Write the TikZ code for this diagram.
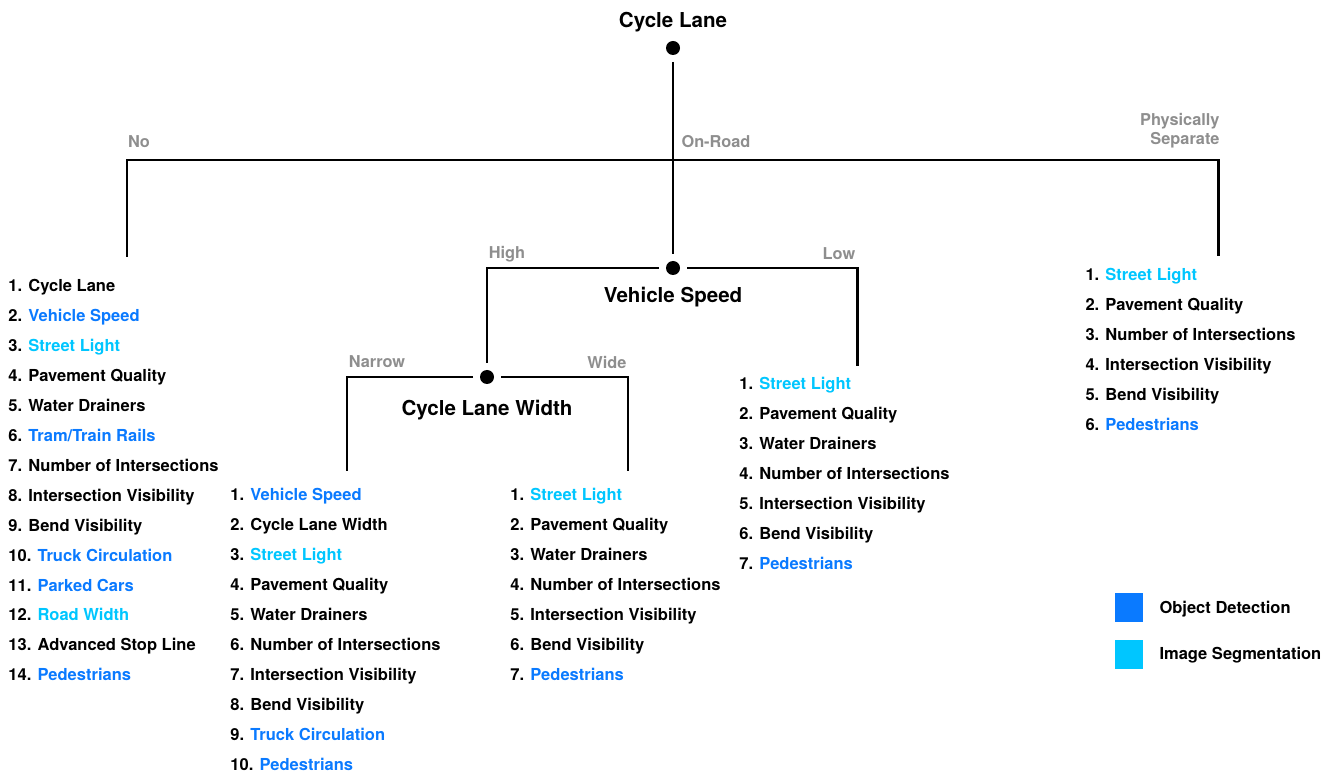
\documentclass[tikz,border=0pt]{standalone}
\usepackage{fontspec}
\setmainfont{TeX Gyre Heros}
\usepackage{xcolor}
\definecolor{treeink}{HTML}{000000}
\definecolor{branchgray}{HTML}{8E8E8E}
\definecolor{objdet}{HTML}{0A7AFF}
\definecolor{imgseg}{HTML}{00C6FF}
\newcommand{\od}[1]{\textcolor{objdet}{#1}}
\newcommand{\is}[1]{\textcolor{imgseg}{#1}}

\begin{document}
\begin{tikzpicture}[-,
  point/.style={coordinate},
  dot/.style={circle, fill=treeink, draw=none, minimum size=0.28cm, inner sep=0pt, outer sep=0.14cm},
  heading/.style={font=\fontsize{11.7}{14}\selectfont\bfseries, text=treeink, inner sep=0pt},
  branch/.style={font=\fontsize{9.3}{12}\selectfont\bfseries, text=branchgray, inner sep=0pt},
  itemlist/.style={anchor=north west, align=left, inner sep=0pt, font=\fontsize{9.4}{17.03}\selectfont\bfseries, text=treeink},
  legendbox/.style={draw=none, inner sep=0pt, minimum width=0.56cm, minimum height=0.58cm},
  every path/.style={draw=treeink, line width=1.7pt}]
\path[use as bounding box, draw=none] (0,0) rectangle (26.66,-15.48);
% tree skeleton
\node[dot] (top) at (13.46,-0.96) {};
\node[point] (split) at (13.46,-3.2) {};
\node[point] (nocorner) at (2.54,-3.2) {};
\node[point] (noend) at (2.54,-5.14) {};
\node[point] (pscorner) at (24.36,-3.2) {};
\node[point] (psend) at (24.36,-5.12) {};
\node[dot] (speed) at (13.46,-5.36) {};
\node[point] (highcorner) at (9.74,-5.36) {};
\node[point] (lowcorner) at (17.14,-5.36) {};
\node[point] (lowend) at (17.14,-7.32) {};
\node[dot] (width) at (9.74,-7.54) {};
\node[point] (narrowcorner) at (6.94,-7.54) {};
\node[point] (narrowend) at (6.94,-9.42) {};
\node[point] (widecorner) at (12.56,-7.54) {};
\node[point] (wideend) at (12.56,-9.42) {};
\draw (top) -- (split) -- (speed);
\draw (noend) -- (nocorner) -- (pscorner) -- (psend);
\draw (width) -- (highcorner) -- (speed);
\draw (speed) -- (lowcorner) -- (lowend);
\draw (width) -- (narrowcorner) -- (narrowend);
\draw (width) -- (widecorner) -- (wideend);
% headings
\node[heading] (laneh) at (13.46,-0.44) {Cycle Lane};
\node[heading] (speedh) at (13.46,-5.94) {Vehicle Speed};
\node[heading] (widthh) at (9.74,-8.2) {Cycle Lane Width};
% branch labels
\node[branch] (nol) at (2.78,-2.84) {No};
\node[branch] (onroadl) at (14.32,-2.84) {On-Road};
\node[branch, anchor=east, align=right] (psl) at (24.42,-2.62) {Physically\\[-1pt]Separate};
\node[branch] (highl) at (10.14,-5.08) {High};
\node[branch] (lowl) at (16.78,-5.08) {Low};
\node[branch] (narrowl) at (7.54,-7.24) {Narrow};
\node[branch] (widel) at (12.14,-7.24) {Wide};
% feature lists
\node[itemlist] (nolist) at (0.14,-5.56) {1. Cycle Lane\\2. \od{Vehicle Speed}\\3. \is{Street Light}\\4. Pavement Quality\\5. Water Drainers\\6. \od{Tram/Train Rails}\\7. Number of Intersections\\8. Intersection Visibility\\9. Bend Visibility\\10. \od{Truck Circulation}\\11. \od{Parked Cars}\\12. \is{Road Width}\\13. Advanced Stop Line\\14. \od{Pedestrians}};
\node[itemlist] (narrowlist) at (4.58,-9.74) {1. \od{Vehicle Speed}\\2. Cycle Lane Width\\3. \is{Street Light}\\4. Pavement Quality\\5. Water Drainers\\6. Number of Intersections\\7. Intersection Visibility\\8. Bend Visibility\\9. \od{Truck Circulation}\\10. \od{Pedestrians}};
\node[itemlist] (widelist) at (10.18,-9.74) {1. \is{Street Light}\\2. Pavement Quality\\3. Water Drainers\\4. Number of Intersections\\5. Intersection Visibility\\6. Bend Visibility\\7. \od{Pedestrians}};
\node[itemlist] (lowlist) at (14.76,-7.52) {1. \is{Street Light}\\2. Pavement Quality\\3. Water Drainers\\4. Number of Intersections\\5. Intersection Visibility\\6. Bend Visibility\\7. \od{Pedestrians}};
\node[itemlist] (pslist) at (21.68,-5.34) {1. \is{Street Light}\\2. Pavement Quality\\3. Number of Intersections\\4. Intersection Visibility\\5. Bend Visibility\\6. \od{Pedestrians}};
% legend
\node[legendbox, fill=objdet] (odbox) at (22.58,-12.15) {};
\node[legendbox, fill=imgseg] (isbox) at (22.58,-13.09) {};
\node[itemlist, anchor=west] (odtext) at (23.16,-12.18) {Object Detection};
\node[itemlist, anchor=west] (istext) at (23.16,-13.1) {Image Segmentation};
\end{tikzpicture}
\end{document}
